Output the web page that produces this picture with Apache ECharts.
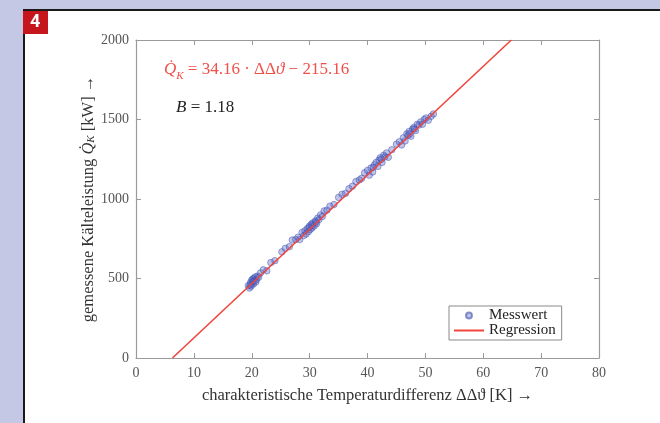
<!DOCTYPE html>
<html>
<head>
<meta charset="utf-8">
<script src="https://cdn.jsdelivr.net/npm/echarts@6/dist/echarts.min.js"></script>
<style>
  html, body { margin: 0; padding: 0; background: #c5c8e5; }
  #chart { width: 660px; height: 423px; }
</style>
</head>
<body>
<div id="chart"></div>
<script>
// Messwerte: Temperaturdifferenz [K] und Kälteleistung [kW]
const dTheta = [
  19.4, 19.6, 19.8, 19.9, 20.0, 20.1, 20.2, 20.3, 20.4, 20.5, 20.6, 20.8, 21.0, 21.2, 21.5,
  22.0, 22.6, 23.3, 24.0, 25.2, 25.8, 26.5, 27.0, 27.6, 28.0, 28.3, 28.7, 29.0, 29.2, 29.4,
  29.6, 29.8, 30.0, 30.1, 30.3, 30.4, 30.6, 30.8, 31.0, 31.2, 31.4, 31.6, 31.9, 32.2, 32.5,
  33.0, 33.5, 34.2, 35.0, 35.6, 36.2, 36.8, 37.4, 38.0, 38.6, 39.0, 39.5, 40.0, 40.3, 40.6,
  40.9, 41.2, 41.5, 41.8, 42.0, 42.2, 42.5, 42.8, 43.0, 43.3, 43.6, 44.2, 45.0, 45.5, 45.9,
  46.2, 46.5, 46.8, 47.0, 47.2, 47.5, 47.8, 48.0, 48.3, 48.6, 48.9, 49.2, 49.5, 49.8, 50.1,
  50.5, 51.0, 51.4, 20.2, 20.7, 30.5, 31.1, 42.4, 47.3, 48.1, 41.0, 29.9, 19.7
];
const qK = [
  455, 440, 475, 452, 490, 470, 498, 465, 500, 488, 510, 492, 515, 508, 535,
  555, 548, 600, 612, 668, 690, 700, 742, 745, 760, 745, 790, 770, 800, 780,
  815, 795, 830, 808, 842, 818, 850, 830, 862, 845, 880, 870, 900, 890, 925,
  930, 955, 965, 1010, 1030, 1035, 1065, 1080, 1110, 1120, 1130, 1165, 1180, 1150, 1195,
  1170, 1215, 1230, 1205, 1245, 1260, 1230, 1275, 1265, 1290, 1262, 1310, 1345, 1360, 1340,
  1385, 1365, 1410, 1400, 1425, 1395, 1440, 1450, 1430, 1470, 1465, 1485, 1470, 1500, 1510,
  1495, 1520, 1535, 480, 478, 835, 855, 1250, 1410, 1440, 1200, 820, 460
];

// Regression Q = 34.16 * dT - 215.16
const regSlope = 34.16;
const regIntercept = -215.16;
const regX = [6.3, 64.85];

const xTicks = [0, 10, 20, 30, 40, 50, 60, 70, 80];
const yTicks = [0, 500, 1000, 1500, 2000];

const serif = "Liberation Serif";
const axisGray = "#9a9a9a";

const chart = echarts.init(document.getElementById("chart"));

const measured = dTheta.map((x, i) => [x, qK[i]]);
const regLine = regX.map(x => [x, regSlope * x + regIntercept]);

const baseAxis = {
  axisLine: { show: true, onZero: false, lineStyle: { color: axisGray, width: 1.2 } },
  axisTick: { show: true, inside: true, length: 5, lineStyle: { color: axisGray } },
  splitLine: { show: false }
};

chart.setOption({
  animation: false,
  backgroundColor: "#c5c8e5",
  graphic: [
    { type: "rect", z: -10, shape: { x: 23, y: 9, width: 640, height: 420 }, style: { fill: "#1a1a1a" } },
    { type: "rect", z: -9, shape: { x: 25, y: 11, width: 640, height: 420 }, style: { fill: "#ffffff" } },
    { type: "rect", z: 5, shape: { x: 23, y: 11, width: 25, height: 23 }, style: { fill: "#c4161c" } },
    { type: "text", z: 6, left: 30, top: 13, style: { text: "4", fill: "#fff", font: "bold 18px Roboto" } },
    {
      type: "text", z: 6, left: 164, top: 61,
      style: {
        text: "{q|Q̇}{s|K}{t| = 34.16 · ΔΔ}{q|ϑ}{t| − 215.16}",
        rich: {
          q: { fontFamily: serif, fontStyle: "italic", fontSize: 17, fill: "#f0504a", lineHeight: 24, verticalAlign: "middle" },
          s: { fontFamily: serif, fontStyle: "italic", fontSize: 11, fill: "#f0504a", lineHeight: 24, verticalAlign: "bottom" },
          t: { fontFamily: serif, fontSize: 17, fill: "#f0504a", lineHeight: 24, verticalAlign: "middle" }
        }
      }
    },
    {
      type: "text", z: 6, left: 176, top: 99,
      style: {
        text: "{q|B}{t| = 1.18}",
        rich: {
          q: { fontFamily: serif, fontStyle: "italic", fontSize: 17, fill: "#222" },
          t: { fontFamily: serif, fontSize: 17, fill: "#222" }
        }
      }
    }
  ],
  grid: { left: 136, right: 61, top: 40, bottom: 65 },
  legend: {
    orient: "vertical",
    left: 449, top: 306,
    itemWidth: 30, itemHeight: 6, itemGap: 0,
    padding: [2, 6, 2, 4],
    borderColor: "#8a8a8a", borderWidth: 1,
    backgroundColor: "#fff",
    textStyle: { fontFamily: serif, fontSize: 15, color: "#222", lineHeight: 14 },
    data: [
      { name: "Messwert", icon: "circle" },
      { name: "Regression", itemStyle: { opacity: 0 } }
    ]
  },
  xAxis: [
    Object.assign({}, baseAxis, {
      type: "value", min: 0, max: 80, interval: 10, position: "bottom",
      name: "charakteristische Temperaturdifferenz ΔΔϑ [K] →",
      nameLocation: "middle", nameGap: 29,
      nameTextStyle: { fontFamily: serif, fontSize: 16.5, color: "#333" },
      axisLabel: {
        fontFamily: serif, fontSize: 14, color: "#555", margin: 8,
        formatter: v => xTicks.includes(v) ? String(v) : ""
      }
    }),
    Object.assign({}, baseAxis, {
      type: "value", min: 0, max: 80, interval: 10, position: "top",
      axisLabel: { show: false }
    })
  ],
  yAxis: [
    Object.assign({}, baseAxis, {
      type: "value", min: 0, max: 2000, interval: 500, position: "left",
      name: "gemessene Kälteleistung {q|Q̇}{s|K} [kW] →",
      nameLocation: "middle", nameGap: 39, nameRotate: 90, nameMoveOverlap: false,
      nameTextStyle: {
        fontFamily: serif, fontSize: 16.5, color: "#333",
        rich: {
          q: { fontFamily: serif, fontStyle: "italic", fontSize: 16.5, color: "#333" },
          s: { fontFamily: serif, fontStyle: "italic", fontSize: 11, color: "#333", verticalAlign: "bottom" }
        }
      },
      axisLabel: {
        fontFamily: serif, fontSize: 14, color: "#555", margin: 7,
        formatter: v => yTicks.includes(v) ? String(v) : ""
      }
    }),
    Object.assign({}, baseAxis, {
      type: "value", min: 0, max: 2000, interval: 500, position: "right",
      axisLabel: { show: false }
    })
  ],
  series: [
    {
      name: "Regression",
      type: "line",
      data: regLine,
      symbol: "none",
      z: 3,
      lineStyle: { color: "#f0453b", width: 1.6 },
      itemStyle: { color: "#f0453b" }
    },
    {
      name: "Messwert",
      type: "scatter",
      data: measured,
      symbolSize: 6.5,
      z: 2,
      itemStyle: { color: "rgba(95,110,200,0.5)", borderColor: "rgba(55,70,170,0.7)", borderWidth: 0.8 }
    }
  ]
});
</script>
</body>
</html>
